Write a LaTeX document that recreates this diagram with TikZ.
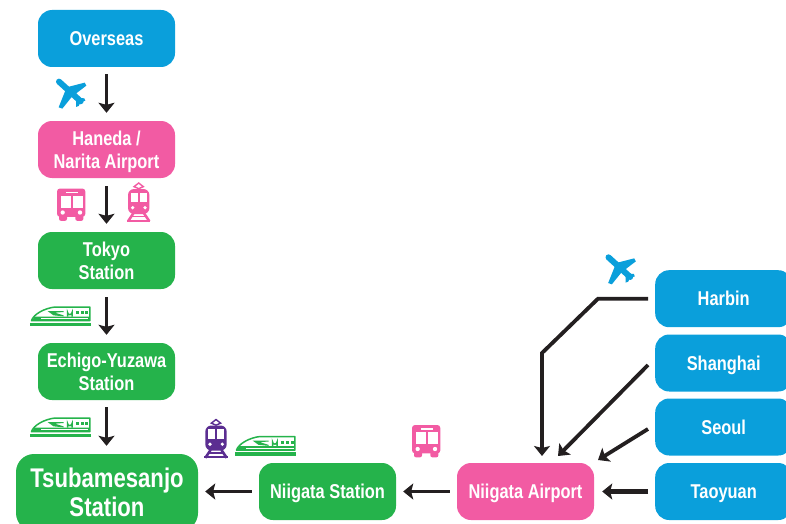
\documentclass[tikz,border=0pt]{standalone}
\usepackage{fontspec}
\setmainfont{Liberation Sans}[FakeStretch=0.82]
\usetikzlibrary{arrows.meta}
\definecolor{cblue}{HTML}{0A9FDB}
\definecolor{cpink}{HTML}{F25BA3}
\definecolor{cgreen}{HTML}{25B34B}
\definecolor{cpurple}{HTML}{5B2E91}
\definecolor{cdark}{HTML}{231F20}
\newcommand{\nd}[1]{\raisebox{0pt}[\height][0pt]{#1}}
\tikzset{
  stopbox/.style={rounded corners=14pt,minimum width=137pt,minimum height=57pt,inner sep=0pt,
    text=white,align=center,font=\bfseries\fontsize{20}{23}\selectfont},
  conn/.style={draw=cdark,line width=3.8pt,-{Stealth[length=10pt,width=16pt,inset=2pt]}},
  connthick/.style={draw=cdark,line width=5.5pt,-{Stealth[length=10pt,width=16pt,inset=2pt]}},
  planeicon/.pic={
    \begin{scope}[x=.3333pt,y=-.3333pt,shift={(-153,-70)}]
      \draw[cblue,line width=6pt,line cap=round] (117,35) -- (182,94);
      \fill[cblue] (140,52) -- (194,38) -- (199,47) -- (156,80) -- cycle;
      \fill[cblue] (140,52) -- (156,80) -- (127,116) -- (116,112) -- cycle;
      \fill[cblue] (176,84) -- (193,85) -- (196,92) -- (182,97) -- (176,108) -- (168,111) -- (168,90) -- cycle;
    \end{scope}
  },
  busicon/.pic={
    \begin{scope}[x=.3333pt,y=-.3333pt,shift={(-62,-73)}]
      \fill[cpink,rounded corners=3pt] (20,25) rectangle (105,110);
      \fill[cpink,rounded corners=2pt] (26,100) rectangle (50,122);
      \fill[cpink,rounded corners=2pt] (75,100) rectangle (99,122);
      \fill[white] (32,47) rectangle (61,82);
      \fill[white] (68,47) rectangle (97,82);
      \fill[white] (46,34) rectangle (82,39);
      \fill[white] (37,97) circle (6.5);
      \fill[white] (89,97) circle (6.5);
    \end{scope}
  },
  pics/trainicon/.style={code={
    \begin{scope}[x=.3333pt,y=-.3333pt,shift={(-266,-66)}]
      \draw[#1,line width=1.4pt] (252,20) -- (266,9) -- (280,20) -- (266,26) -- cycle;
      \fill[#1,rounded corners=6pt] (234,27) rectangle (298,102);
      \fill[white] (243,38) rectangle (263,66);
      \fill[white] (270,38) rectangle (290,66);
      \fill[white] (248,83) circle (5.5);
      \fill[white] (285,83) circle (5.5);
      \draw[#1,line width=2.6pt] (250,100) -- (234,124);
      \draw[#1,line width=2.6pt] (282,100) -- (298,124);
      \fill[#1] (231,119) rectangle (301,125);
      \fill[#1] (243,107) rectangle (289,112);
    \end{scope}
  }},
  pics/shinkicon/.style={code={
    \begin{scope}[x=.3333pt,y=-.3333pt,shift={(-121,-48)}]
      \draw[cgreen,line width=1.5pt,fill=white,line join=round]
        (209,21) -- (105,21) .. controls (75,24) and (40,42) .. (34,62) -- (209,62) -- cycle;
      \fill[cgreen] (30,68) rectangle (213,78);
      \fill[cgreen] (42,50) -- (209,50) -- (209,62) -- (36,62) -- cycle;
      \fill[white] (62,54.5) rectangle (205,57.5);
      \fill[cgreen] (82,33) -- (130,33) -- (130,36) -- (104,38) -- (130,46) -- (130,49) -- (100,46) -- cycle;
      \draw[cgreen,line width=1.5pt] (142,50) -- (142,37) arc[start angle=180,end angle=0,radius=7] -- (156,50);
      \fill[cgreen] (167,33) rectangle (176,43);
      \fill[cgreen] (182,33) rectangle (191,43);
      \fill[cgreen] (196,33) rectangle (205,43);
    \end{scope}
  }}
}
\begin{document}
\begin{tikzpicture}[x=1pt,y=-1pt]
\useasboundingbox (0,0) rectangle (786,524);
\clip (0,0) rectangle (786,524);
% left column
\node[stopbox,fill=cblue] (overseas) at (106.5,38.5) {Overseas};
\node[stopbox,fill=cpink] (haneda) at (106.5,149.5) {Haneda /\\\nd{Narita Airport}};
\node[stopbox,fill=cgreen] (tokyo) at (106.5,260.5) {Tokyo\\Station};
\node[stopbox,fill=cgreen] (echigo) at (106.5,371.5) {Echigo-Yuzawa\\Station};
\node[stopbox,fill=cgreen,minimum width=182pt,minimum height=77pt,rounded corners=18pt,
  font=\bfseries\fontsize{27}{29}\selectfont] (tsubame) at (107,492.5) {Tsubamesanjo\\Station};
% bottom row
\node[stopbox,fill=cgreen] (nstation) at (327.5,491.5) {\nd{Niigata Station}};
\node[stopbox,fill=cpink] (nairport) at (525.5,491.5) {\nd{Niigata Airport}};
% right column
\node[stopbox,fill=cblue,anchor=west] (harbin) at (655,298.7) {Harbin};
\node[stopbox,fill=cblue,anchor=west] (shanghai) at (655,363) {\nd{Shanghai}};
\node[stopbox,fill=cblue,anchor=west] (seoul) at (655,427) {Seoul};
\node[stopbox,fill=cblue,anchor=west] (taoyuan) at (655,491.5) {\nd{Taoyuan}};
% connectors
\draw[conn,shorten <=7pt,shorten >=8pt] (overseas.south) -- (haneda.north);
\draw[conn,shorten <=8pt,shorten >=8pt] (haneda.south) -- (tokyo.north);
\draw[conn,shorten <=8pt,shorten >=8pt] (tokyo.south) -- (echigo.north);
\draw[conn,shorten <=7pt,shorten >=8pt] (echigo.south) -- (echigo.south |- tsubame.north);
\draw[conn,shorten <=7pt,shorten >=7pt] (nstation.west) -- (nstation.west -| tsubame.east);
\draw[conn,shorten <=7pt,shorten >=7pt] (nairport.west) -- (nstation.east);
\draw[connthick,shorten <=7pt,shorten >=8pt] (taoyuan.west) -- (nairport.east);
\coordinate (hbend1) at (598,298.7);
\coordinate (hbend2) at (542,353);
\coordinate (hend) at (542,456);
\coordinate (shstart) at (648,365);
\coordinate (shend) at (558,456);
\coordinate (sestart) at (648,429);
\coordinate (seend) at (598,460);
\draw[conn,line join=miter,shorten <=7pt] (harbin.west) -- (hbend1) -- (hbend2) -- (hend);
\draw[conn] (shstart) -- (shend);
\draw[conn] (sestart) -- (seend);
% icons
\pic at (71,93.3) {planeicon};
\pic at (620.5,269) {planeicon};
\pic at (71,204.5) {busicon};
\pic at (426,441) {busicon};
\pic at (138.7,202) {trainicon=cpink};
\pic at (216,438.5) {trainicon=cpurple};
\pic at (60.5,316) {shinkicon};
\pic at (60.5,427) {shinkicon};
\pic at (265.5,445.5) {shinkicon};
\end{tikzpicture}
\end{document}
